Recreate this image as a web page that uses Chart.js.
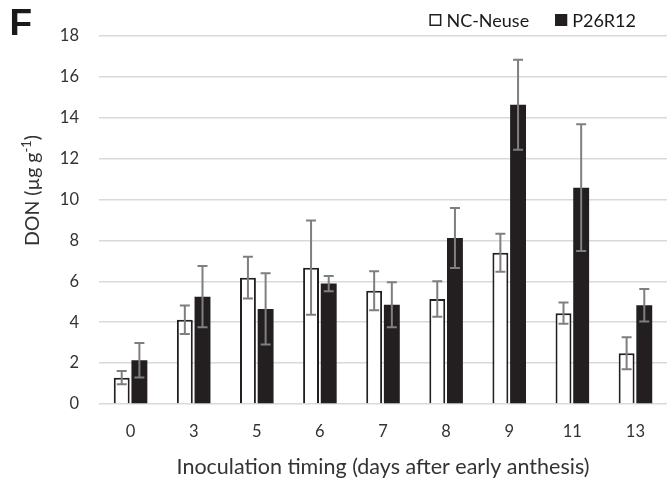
<!DOCTYPE html>
<html>
<head>
<meta charset="utf-8">
<script src="https://cdn.jsdelivr.net/npm/chart.js@4"></script>
<style>
html,body{margin:0;padding:0;background:#fff;}
#wrap{width:669px;height:480px;position:relative;}
</style>
</head>
<body>
<div id="wrap"><canvas id="c" width="669" height="480"></canvas></div>
<script>
// ---- data ----
const categories = ["0", "3", "5", "6", "7", "8", "9", "11", "13"];
const seriesNames = ["NC-Neuse", "P26R12"];
const ncNeuse = [1.29, 4.12, 6.18, 6.67, 5.54, 5.14, 7.40, 4.44, 2.48];
const ncNeuseErr = [0.32, 0.70, 1.02, 2.30, 0.95, 0.87, 0.93, 0.52, 0.78];
const p26r12 = [2.14, 5.25, 4.65, 5.89, 4.86, 8.12, 14.64, 10.58, 4.83];
const p26r12Err = [0.84, 1.50, 1.74, 0.37, 1.10, 1.47, 2.20, 3.10, 0.80];
const yTicks = [0, 2, 4, 6, 8, 10, 12, 14, 16, 18];
const panelLetter = "F";
const xTitle = "Inoculation timing (days after early anthesis)";
const yTitleMain = "DON (\u00B5g g";
const yTitleSup = "-1";
const yTitleEnd = ")";

const FONT = "Lato, 'Open Sans', sans-serif";
const DARK = "#231f20";

const errorBars = {
  id: 'errorBars',
  afterDatasetsDraw(chart) {
    const ctx = chart.ctx;
    const ys = chart.scales.y;
    ctx.save();
    ctx.strokeStyle = '#7f7f7f';
    ctx.lineWidth = 2;
    chart.data.datasets.forEach((ds, di) => {
      const meta = chart.getDatasetMeta(di);
      meta.data.forEach((bar, i) => {
        const v = ds.data[i], e = ds.errors[i];
        const x = bar.x;
        const yT = ys.getPixelForValue(v + e);
        const yB = ys.getPixelForValue(v - e);
        ctx.beginPath();
        ctx.moveTo(x, yT); ctx.lineTo(x, yB);
        ctx.moveTo(x - 5, yT); ctx.lineTo(x + 5, yT);
        ctx.moveTo(x - 5, yB); ctx.lineTo(x + 5, yB);
        ctx.stroke();
      });
    });
    ctx.restore();
  }
};

const decorations = {
  id: 'decorations',
  afterDraw(chart) {
    const ctx = chart.ctx;
    ctx.save();
    // panel letter
    ctx.fillStyle = '#1a1a1a';
    ctx.font = "bold 37px 'Liberation Sans', Arial, sans-serif";
    ctx.textBaseline = 'alphabetic';
    ctx.textAlign = 'left';
    ctx.fillText(panelLetter, 9.5, 34.5);

    // y title (rotated, with superscript)
    const mainFont = "19.5px " + FONT;
    const supFont = "13px " + FONT;
    ctx.font = mainFont;
    const w1 = ctx.measureText(yTitleMain).width;
    const w3 = ctx.measureText(yTitleEnd).width;
    ctx.font = supFont;
    const w2 = ctx.measureText(yTitleSup).width;
    const total = w1 + w2 + w3;
    ctx.translate(33, 190.5);
    ctx.rotate(-Math.PI / 2);
    ctx.fillStyle = '#333';
    ctx.textBaseline = 'middle';
    let x = -total / 2;
    ctx.font = mainFont; ctx.fillText(yTitleMain, x, 0); x += w1;
    ctx.font = supFont; ctx.fillText(yTitleSup, x, -6.5); x += w2;
    ctx.font = mainFont; ctx.fillText(yTitleEnd, x, 0);
    ctx.restore();

    // legend (top right)
    ctx.save();
    ctx.font = "18px " + FONT;
    ctx.textBaseline = 'middle';
    ctx.textAlign = 'left';
    const rightEnd = 636, cy = 20, box = 12, gap = 5, spacing = 26;
    const items = chart.data.datasets.map(d => ({label: d.label, fill: d.backgroundColor, stroke: d.borderColor}));
    let widths = items.map(it => box + gap + ctx.measureText(it.label).width);
    let totalW = widths.reduce((a, b) => a + b, 0) + spacing * (items.length - 1);
    let lx = rightEnd - totalW;
    items.forEach((it, i) => {
      ctx.fillStyle = it.fill;
      ctx.fillRect(lx, cy - box / 2, box, box);
      ctx.strokeStyle = it.stroke;
      ctx.lineWidth = 1.5;
      ctx.strokeRect(lx + 0.75, cy - box / 2 + 0.75, box - 1.5, box - 1.5);
      ctx.fillStyle = '#1a1a1a';
      ctx.fillText(it.label, lx + box + gap, cy + 1);
      lx += widths[i] + spacing;
    });
    ctx.restore();
  }
};

new Chart(document.getElementById('c'), {
  type: 'bar',
  data: {
    labels: categories,
    datasets: [
      { label: seriesNames[0], data: ncNeuse, errors: ncNeuseErr,
        backgroundColor: '#ffffff', borderColor: DARK, borderWidth: 2,
        categoryPercentage: 0.56, barPercentage: 0.9 },
      { label: seriesNames[1], data: p26r12, errors: p26r12Err,
        backgroundColor: DARK, borderColor: DARK, borderWidth: 0,
        categoryPercentage: 0.56, barPercentage: 0.9 }
    ]
  },
  options: {
    responsive: false,
    animation: false,
    devicePixelRatio: 1,
    layout: { padding: { left: 0, right: 2, top: 36, bottom: 0 } },
    plugins: { legend: { display: false }, tooltip: { enabled: false } },
    scales: {
      x: {
        grid: { display: false, drawTicks: false },
        border: { display: false },
        ticks: { color: '#333', font: { family: FONT, size: 16.5 }, padding: 18 },
        title: { display: true, text: xTitle, color: '#333',
                 font: { family: FONT, size: 21.5 }, padding: { top: 4, bottom: 0 } },
        afterFit(s) { s.height = 76; }
      },
      y: {
        min: 0, max: 18,
        afterBuildTicks(s) { s.ticks = yTicks.map(v => ({ value: v })); },
        grid: { color: '#d9d9d9', lineWidth: 1.5, drawTicks: false },
        border: { display: false },
        ticks: { color: '#333', font: { family: FONT, size: 16.5 }, padding: 20 },
        afterFit(s) { s.width = 99; }
      }
    }
  },
  plugins: [errorBars, decorations]
});
</script>
</body>
</html>
